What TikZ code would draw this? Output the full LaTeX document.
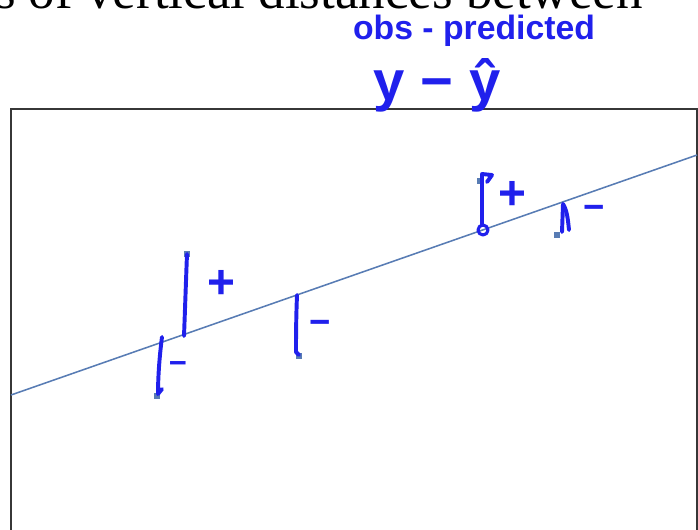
\documentclass[tikz,border=0pt]{standalone}
\usepackage{fontspec}
\setmainfont{Liberation Serif}
\newfontfamily\handfont{Liberation Sans}
\usepackage{xcolor}
\definecolor{fitblue}{RGB}{88,124,180}
\definecolor{inkblue}{RGB}{32,32,236}
\definecolor{framegray}{RGB}{55,55,55}

\begin{document}
\begin{tikzpicture}[x=0.025cm,y=-0.025cm,
  obs/.style={fill=fitblue,inner sep=0pt,minimum size=4.6pt},
  ink/.style={inkblue,line width=2.8pt,line cap=round,line join=round},
  sign/.style={inkblue,inner sep=0pt,font=\handfont\bfseries\fontsize{#1}{#1}\selectfont},
  sign/.default=26]
  \useasboundingbox (0,0) rectangle (698,529);
  % title, cut off by the page edge
  \node[anchor=base east,inner sep=0pt,font=\fontsize{37.7}{40}\selectfont] (title) at (643,8)
    {s of vertical distances between};
  % plot frame and fitted line
  \draw[framegray,line width=1.5pt] (11,535) -- (11,109) -- (697,109) -- (697,535);
  \draw[fitblue,line width=1.1pt] (11,395) coordinate (lineL) -- (697,155) coordinate (lineR);
  % observations
  \node[obs] (obsA) at (157,396) {};
  \node[obs] (obsB) at (187,254) {};
  \node[obs] (obsC) at (299,356) {};
  \node[obs] (obsD) at (480,181) {};
  \node[obs] (obsE) at (557,235) {};
  % predicted values on the line
  \coordinate (fitA) at (162,337);
  \coordinate (fitB) at (184,336);
  \coordinate (fitC) at (297,295);
  \coordinate (fitD) at (483,230);
  \coordinate (fitE) at (563,204);
  % residuals, drawn by hand
  \draw[ink] (fitA) .. controls (159,360) and (158,380) .. (158,394) -- (162,389);
  \draw[ink] (obsB.center) .. controls (186,280) and (185,310) .. (fitB);
  \draw[ink] (fitC) .. controls (296,320) and (296,340) .. (296,352) -- (299,355);
  \draw[ink] (482,225) -- (482,174) -- (492,175) -- (487,182);
  \draw[ink,line width=2.2pt] (fitD) circle (5);
  \draw[ink] (fitE) -- (562,232);
  \draw[ink] (fitE) .. controls (567,210) and (568,220) .. (569,230);
  % signs of the residuals
  \node[sign=22] (sgnA) at (178,367) {−};
  \node[sign=34] (sgnB) at (221,284) {+};
  \node[sign=26] (sgnC) at (320,327) {−};
  \node[sign=34] (sgnD) at (512,195) {+};
  \node[sign=26] (sgnE) at (594,212) {−};
  % handwritten note
  \node[inkblue,inner sep=0pt,font=\handfont\bfseries\fontsize{24}{24}\selectfont] (note) at (474,31)
    {obs - predicted};
  \node[inkblue,inner sep=0pt,font=\handfont\bfseries\fontsize{40}{40}\selectfont,anchor=base] (formula) at (437,100)
    {y − ŷ};
\end{tikzpicture}
\end{document}
